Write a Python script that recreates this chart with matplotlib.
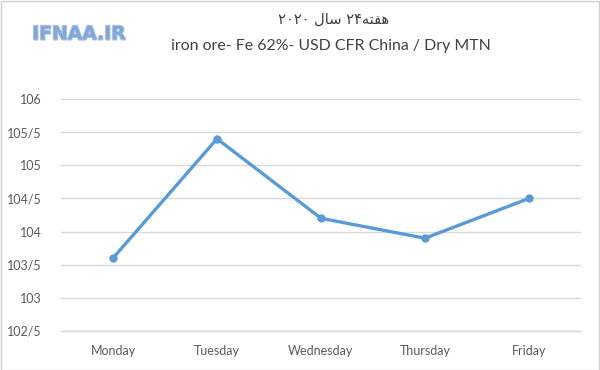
import matplotlib
matplotlib.use("Agg")
import matplotlib.pyplot as plt
import matplotlib.patheffects as pe
from matplotlib.patches import Rectangle

# Data
days = ["Monday", "Tuesday", "Wednesday", "Thursday", "Friday"]
prices = [103.6, 105.4, 104.2, 103.9, 104.5]
y_ticks = [102.5, 103, 103.5, 104, 104.5, 105, 105.5, 106]
y_tick_labels = ["102/5", "103", "103/5", "104", "104/5", "105", "105/5", "106"]

# Persian title "هفته ۲۴ سال ۲۰۲۰" written in visual order with presentation forms,
# since matplotlib does no Arabic shaping / bidi
title_fa = "۲۰۲۰ " + "\uFEDD\uFE8E\uFEB3" + " ۲۴" + "\uFEEA\uFE98\uFED4\uFEEB"
title_en = "iron ore- Fe 62%- USD CFR China / Dry MTN"

fig = plt.figure(figsize=(6, 3.7), dpi=100)
fig.patch.set_facecolor("white")
ax = fig.add_axes([61 / 600, 1 - 331 / 370, 520 / 600, 232 / 370])

x = range(len(days))
ax.plot(x, prices, color="#5B9BD5", linewidth=2.4, marker="o", markersize=5,
        solid_capstyle="round", zorder=3)

ax.set_xlim(-0.5, len(days) - 0.5)
ax.set_ylim(102.5, 106)
ax.set_yticks(y_ticks)
ax.set_yticklabels(y_tick_labels)
ax.set_xticks(list(x))
ax.set_xticklabels(days)

ax.grid(axis="y", color="#D9D9D9", linewidth=1)
ax.set_axisbelow(True)
for s in ["top", "right", "left"]:
    ax.spines[s].set_visible(False)
ax.spines["bottom"].set_color("#D9D9D9")
ax.spines["bottom"].set_linewidth(1)
ax.tick_params(length=0, colors="#595959", labelsize=9)
ax.tick_params(axis="y", pad=14)
ax.tick_params(axis="x", pad=10)
for lab in ax.get_xticklabels() + ax.get_yticklabels():
    lab.set_fontfamily("Lato")

fig.text(334 / 600, 1 - 20 / 370, title_fa, ha="center", va="center",
         fontsize=10.5, color="#404040", family=["DejaVu Serif", "DejaVu Sans"])
fig.text(331 / 600, 1 - 46 / 370, title_en, ha="center", va="center",
         fontsize=11.4, color="#404040", family="Lato")

logo = fig.text(79 / 600, 1 - 34 / 370, "IFNAA.IR", ha="center", va="center",
                fontsize=13.5, color="#7FA7DC", family="DejaVu Sans",
                fontweight="bold")
logo.set_path_effects([pe.withStroke(linewidth=1.5, foreground="#B5C4D8")])

fig.patches.append(Rectangle((0.001, 0.001), 0.997, 0.996, transform=fig.transFigure,
                             fill=False, edgecolor="#D0D0D0", linewidth=1))

fig.savefig("out.png", dpi=100)
